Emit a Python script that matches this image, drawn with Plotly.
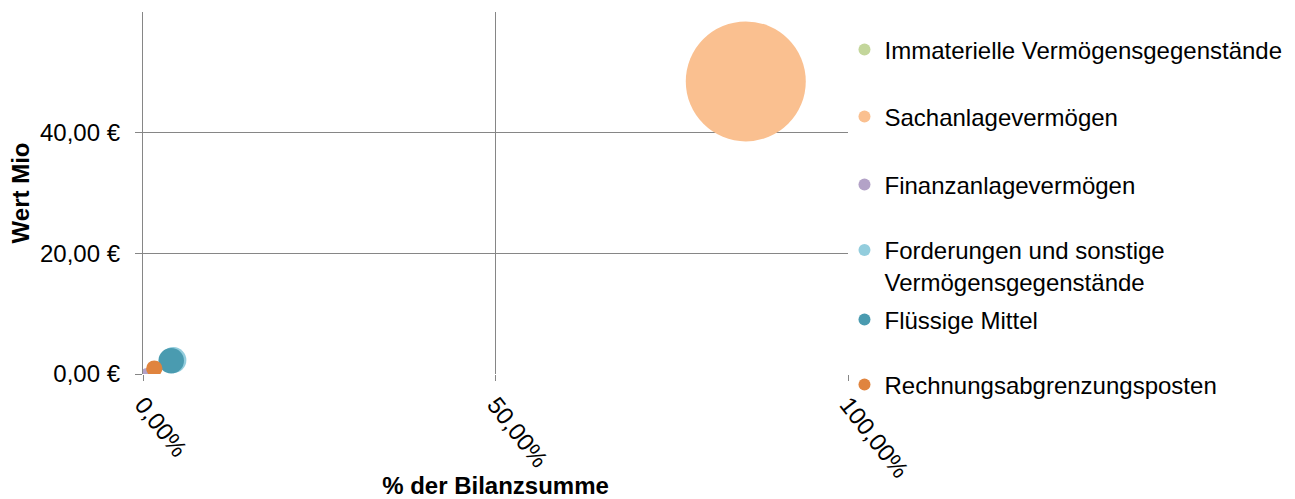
import plotly.graph_objects as go

categories = [
    "Immaterielle Vermögensgegenstände",
    "Sachanlagevermögen",
    "Finanzanlagevermögen",
    "Forderungen und sonstige<br>Vermögensgegenstände",
    "Flüssige Mittel",
    "Rechnungsabgrenzungsposten",
]
anteil = [0.001, 0.855, 0.004, 0.043, 0.040, 0.016]      # % der Bilanzsumme
wert_mio = [0.05, 48.5, 0.25, 2.3, 2.2, 0.9]           # Wert Mio €
colors = ["#C3D69B", "#FAC090", "#B3A2C7", "#93CDDD", "#4A9BB0", "#E0843E"]

x_ticks = [0, 0.5, 1.0]
x_ticktext = ["0,00%", "50,00%", "100,00%"]
y_ticks = [0, 20, 40]
y_ticktext = ["0,00 €", "20,00 €", "40,00 €"]

FONT = "Liberation Sans, Arial, sans-serif"
FS = 24
max_d = 120
sizeref = 2.0 * max(wert_mio) / (max_d ** 2)

legend_y_px = [50, 117, 185, 252, 320, 385]
plot_top, plot_bottom = 12, 374

fig = go.Figure()
legend_names = ["legend"] + [f"legend{i}" for i in range(2, 7)]
for i, name in enumerate(categories):
    fig.add_trace(go.Scatter(
        x=[anteil[i]], y=[wert_mio[i]], mode="markers", name=name,
        marker=dict(size=[wert_mio[i]], sizemode="area", sizeref=sizeref,
                    color=colors[i], line=dict(width=0), opacity=1),
        legend=legend_names[i],
        hovertemplate="%{x:.2%}<br>%{y:.2f} €<extra>" + name + "</extra>",
    ))

layout_legends = {}
for i, ln in enumerate(legend_names):
    ypaper = (plot_bottom - legend_y_px[i]) / (plot_bottom - plot_top)
    layout_legends[ln] = dict(
        x=0.995, xanchor="left", y=ypaper, yanchor="middle",
        font=dict(family=FONT, size=FS, color="#000000"),
        itemsizing="constant", bgcolor="rgba(0,0,0,0)", borderwidth=0,
        valign="top", itemwidth=30,
    )
# two-line item: anchor so its first line sits at the listed position
layout_legends["legend4"]["y"] = (plot_bottom - (legend_y_px[3] - 24)) / (plot_bottom - plot_top)
layout_legends["legend4"]["yanchor"] = "top"

fig.update_layout(
    width=1295, height=499,
    margin=dict(l=143, r=447, t=12, b=125, autoexpand=False),
    paper_bgcolor="white", plot_bgcolor="white",
    font=dict(family=FONT, size=FS, color="#000000"),
    showlegend=True,
    **layout_legends,
)
fig.update_xaxes(
    range=[0, 1.0], tickvals=x_ticks, ticktext=x_ticktext, tickangle=52,
    showgrid=True, gridcolor="#868686", gridwidth=1.3,
    showline=False, zeroline=False, automargin=False,
    ticks="outside", ticklen=6, tickcolor="#868686", tickwidth=1.3,
    title=dict(text="<b>% der Bilanzsumme</b>", font=dict(family=FONT, size=FS), standoff=8),
    tickfont=dict(family=FONT, size=FS, color="#000000"),
)
fig.update_yaxes(
    range=[0, 60], tickvals=y_ticks, ticktext=y_ticktext,
    showgrid=True, gridcolor="#868686", gridwidth=1.3,
    showline=True, linecolor="#868686", linewidth=1.3, zeroline=False, automargin=False,
    ticks="outside", ticklen=7, tickcolor="#868686", tickwidth=1.3,
    ticklabelstandoff=10,
    title=dict(text="<b>Wert Mio</b>", font=dict(family=FONT, size=FS), standoff=3),
    tickfont=dict(family=FONT, size=FS, color="#000000"),
)

fig.write_html("out.html", config={"displayModeBar": False},
               post_script="document.body.style.margin='0';document.body.style.overflow='hidden';")
